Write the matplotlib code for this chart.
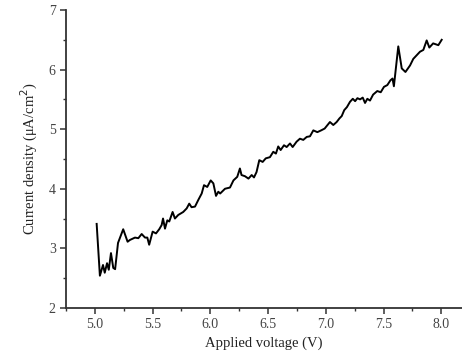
import matplotlib
matplotlib.use("Agg")
import matplotlib.pyplot as plt
from matplotlib.ticker import MultipleLocator

plt.rcParams['font.family'] = ['Liberation Serif', 'DejaVu Serif']

voltage = [5.015, 5.043, 5.07, 5.085, 5.105, 5.12, 5.139, 5.159, 5.175, 5.20, 5.245,
           5.283, 5.303, 5.347, 5.376, 5.405, 5.434, 5.454, 5.47, 5.50, 5.529,
           5.557, 5.578, 5.59, 5.607, 5.627, 5.644, 5.673, 5.693, 5.722, 5.765,
           5.795, 5.817, 5.837, 5.867, 5.895, 5.925, 5.945, 5.973, 6.003, 6.026,
           6.049, 6.069, 6.085, 6.127, 6.17, 6.20, 6.233, 6.256, 6.27, 6.30,
           6.33, 6.358, 6.378, 6.40, 6.424, 6.453, 6.48, 6.516, 6.545, 6.568,
           6.588, 6.609, 6.638, 6.661, 6.69, 6.713, 6.747, 6.776, 6.805, 6.835,
           6.863, 6.892, 6.927, 6.96, 6.99, 7.036, 7.065, 7.094, 7.118, 7.138,
           7.16, 7.183, 7.21, 7.234, 7.254, 7.274, 7.297, 7.32, 7.34, 7.36,
           7.383, 7.41, 7.446, 7.476, 7.504, 7.533, 7.56, 7.578, 7.59, 7.628,
           7.658, 7.69, 7.73, 7.758, 7.787, 7.816, 7.845, 7.874, 7.897, 7.93,
           7.975, 8.004]
current = [3.41, 2.54, 2.72, 2.59, 2.75, 2.64, 2.92, 2.67, 2.65, 3.09, 3.32,
           3.11, 3.14, 3.18, 3.17, 3.24, 3.18, 3.18, 3.06, 3.28, 3.25,
           3.32, 3.39, 3.50, 3.33, 3.47, 3.45, 3.61, 3.50, 3.56, 3.61,
           3.67, 3.75, 3.69, 3.70, 3.81, 3.92, 4.06, 4.03, 4.14, 4.09,
           3.88, 3.95, 3.92, 4.00, 4.02, 4.14, 4.20, 4.34, 4.23, 4.21,
           4.17, 4.23, 4.19, 4.28, 4.48, 4.45, 4.51, 4.53, 4.62, 4.59,
           4.71, 4.65, 4.73, 4.70, 4.76, 4.70, 4.79, 4.84, 4.82, 4.87,
           4.88, 4.98, 4.95, 4.98, 5.01, 5.12, 5.07, 5.12, 5.18, 5.22,
           5.32, 5.37, 5.46, 5.51, 5.47, 5.52, 5.50, 5.53, 5.44, 5.51,
           5.48, 5.58, 5.64, 5.62, 5.71, 5.74, 5.82, 5.85, 5.72, 6.39,
           6.02, 5.96, 6.07, 6.18, 6.24, 6.30, 6.33, 6.49, 6.37, 6.44,
           6.41, 6.50]

fig = plt.figure(figsize=(4.62, 3.58), dpi=100)
ax = fig.add_axes([0.143, 0.14, 0.857, 0.832])
ax.plot(voltage, current, color="black", lw=1.4)

ax.set_xlim(4.75, 8.18)
ax.set_ylim(2, 7)
ax.xaxis.set_major_locator(MultipleLocator(0.5))
ax.xaxis.set_minor_locator(MultipleLocator(0.25))
ax.yaxis.set_major_locator(MultipleLocator(1))
ax.yaxis.set_minor_locator(MultipleLocator(0.5))
ax.xaxis.set_major_formatter(plt.FormatStrFormatter('%.1f'))
ax.yaxis.set_major_formatter(plt.FormatStrFormatter('%d'))

for s in ("top", "right"):
    ax.spines[s].set_visible(False)
for s in ("left", "bottom"):
    ax.spines[s].set_linewidth(1.3)
    ax.spines[s].set_color("#333333")

ax.tick_params(which="major", direction="out", length=4, width=1.1, labelsize=10,
               colors="#333333", labelcolor="#444444")
ax.tick_params(which="minor", direction="out", length=2.5, width=1.0, colors="#333333")

ax.set_xlabel("Applied voltage (V)", fontsize=10.5, color="#222222", labelpad=4)
ax.set_ylabel("Current density (μA/cm$^{2}$)", fontsize=10.5, color="#222222", labelpad=6)

fig.savefig("out.png", dpi=100)
